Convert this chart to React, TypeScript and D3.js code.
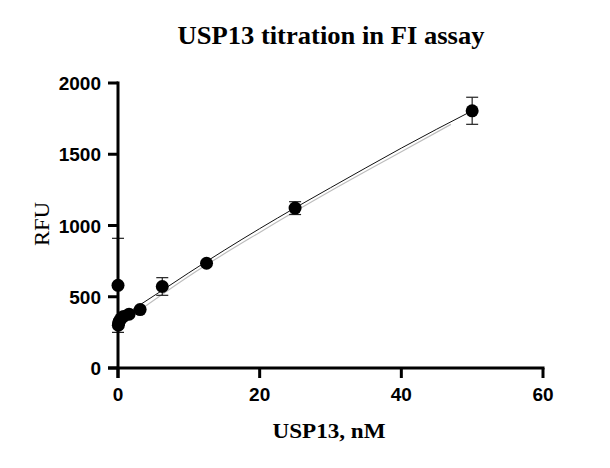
import React from "react";
import * as d3 from "d3";

const conc = [0, 0.049, 0.098, 0.195, 0.39, 0.78, 1.5625, 3.125, 6.25, 12.5, 25, 50];
const rfu = [580, 300, 315, 330, 345, 362, 378, 410, 572, 735, 1122, 1805];
const sd = [330, 0, 0, 0, 0, 0, 0, 0, 62, 0, 45, 95];

const fitX = [0.78, 3, 6.25, 10, 15, 20, 25, 30, 35, 40, 45, 50];
const fitY = [368, 440, 545, 668, 826, 978, 1124, 1265, 1405, 1543, 1676, 1805];
const greyX = [3.5, 10, 20, 30, 40, 47];
const greyY = [432, 655, 962, 1252, 1528, 1720];

const xTicks = [0, 20, 40, 60];
const yTicks = [0, 500, 1000, 1500, 2000];

export default function App() {
  const x = d3.scaleLinear().domain([0, 60]).range([118, 543]);
  const y = d3.scaleLinear().domain([0, 2000]).range([368, 83]);
  const line = d3.line<number>().curve(d3.curveMonotoneX);
  const fitPts = fitX.map((v, i) => [x(v), y(fitY[i])] as [number, number]);
  const greyPts = greyX.map((v, i) => [x(v), y(greyY[i]) + 1.5] as [number, number]);
  const tickFont = "'Liberation Sans', Arial, sans-serif";
  const serif = "'Liberation Serif', 'Times New Roman', serif";
  return (
    <svg width={610} height={468} style={{ position: "absolute", left: 0, top: 0, background: "#fff" }}>
      <text x={331} y={44} textAnchor="middle" fontFamily={serif} fontWeight="bold" fontSize={25} textLength={307} lengthAdjust="spacingAndGlyphs">
        USP13 titration in FI assay
      </text>
      {/* lines */}
      <path d={line(greyPts) || ""} fill="none" stroke="#bdbdbd" strokeWidth={1.2} />
      <path d={line(fitPts) || ""} fill="none" stroke="#111" strokeWidth={1} />
      {/* error bars */}
      {conc.map((c, i) =>
        sd[i] > 0 ? (
          <g key={"e" + i} stroke="#222" strokeWidth={1.2}>
            <line x1={x(c)} x2={x(c)} y1={y(rfu[i] + sd[i])} y2={y(rfu[i] - sd[i])} />
            <line x1={x(c) - 6} x2={x(c) + 6} y1={y(rfu[i] + sd[i])} y2={y(rfu[i] + sd[i])} />
            <line x1={x(c) - 6} x2={x(c) + 6} y1={y(rfu[i] - sd[i])} y2={y(rfu[i] - sd[i])} />
          </g>
        ) : null
      )}
      {/* axes */}
      <g stroke="#000" strokeWidth={3}>
        <line x1={118} x2={118} y1={y(2000) - 1.5} y2={378} />
        <line x1={108} x2={543 + 1.5} y1={368} y2={368} />
        {yTicks.map((t) => (
          <line key={"yt" + t} x1={108} x2={118} y1={y(t)} y2={y(t)} />
        ))}
        {xTicks.map((t) => (
          <line key={"xt" + t} x1={x(t)} x2={x(t)} y1={368} y2={378} />
        ))}
      </g>
      {/* points */}
      {conc.map((c, i) => (
        <circle key={"p" + i} cx={x(c)} cy={y(rfu[i])} r={6.5} fill="#000" />
      ))}
      {yTicks.map((t) => (
        <text key={"yl" + t} x={101} y={y(t) + 7} textAnchor="end" fontFamily={tickFont} fontWeight="bold" fontSize={19}>
          {t}
        </text>
      ))}
      {xTicks.map((t) => (
        <text key={"xl" + t} x={x(t)} y={401} textAnchor="middle" fontFamily={tickFont} fontWeight="bold" fontSize={19}>
          {t}
        </text>
      ))}
      <text x={329} y={438} textAnchor="middle" fontFamily={serif} fontWeight="bold" fontSize={22} textLength={113} lengthAdjust="spacingAndGlyphs">
        USP13, nM
      </text>
      <text transform={`translate(49,224) rotate(-90)`} textAnchor="middle" fontFamily={serif} fontSize={20} textLength={44} lengthAdjust="spacingAndGlyphs">
        RFU
      </text>
    </svg>
  );
}
